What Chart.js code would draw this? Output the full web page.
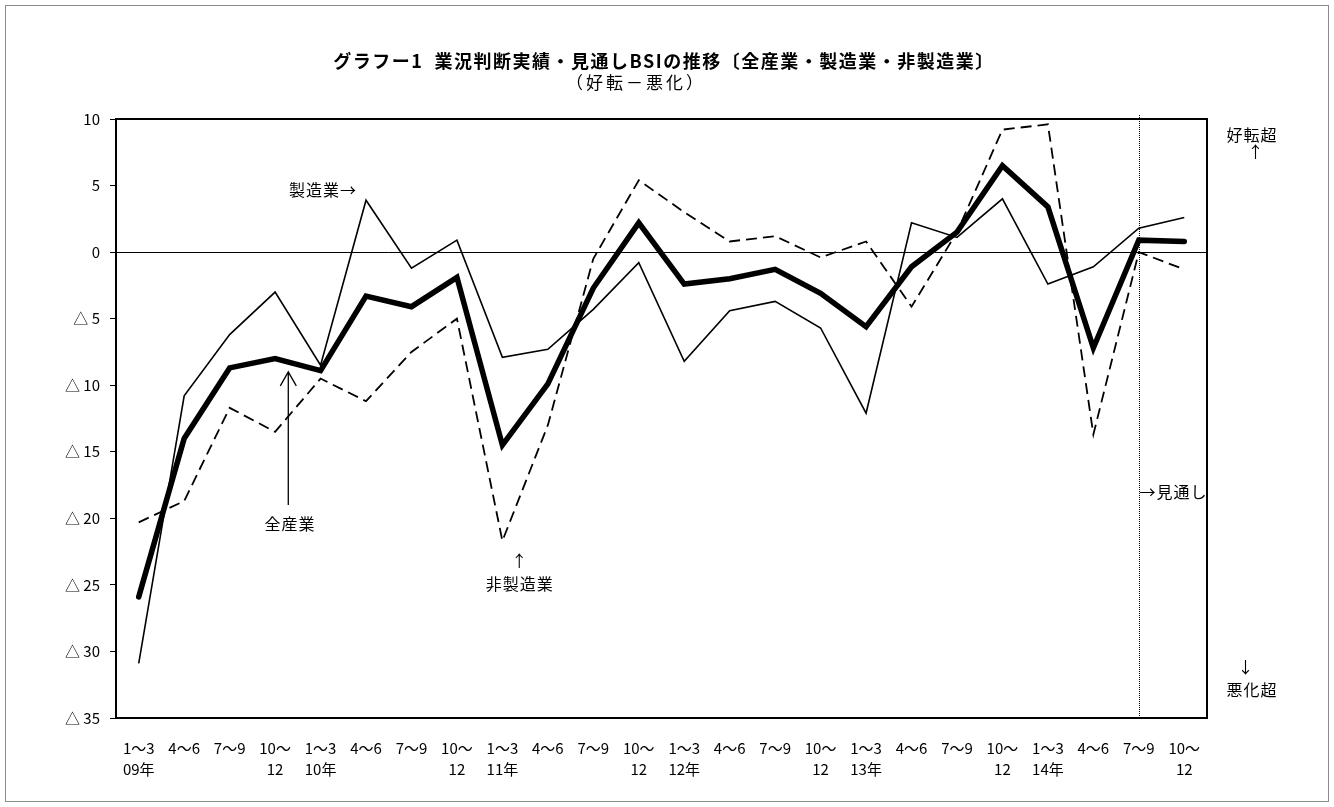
<!DOCTYPE html>
<html>
<head>
<meta charset="utf-8">
<script src="https://cdn.jsdelivr.net/npm/chart.js@4/dist/chart.umd.min.js"></script>
<style>
  html, body { margin: 0; padding: 0; background: #fff; }
  #wrap { width: 1334px; height: 807px; position: relative; }
</style>
</head>
<body>
<div id="wrap"><canvas id="bsi" width="1334" height="807"></canvas></div>
<script>
// quarter labels (two lines: quarter / year)
const quarterTop = ["1～3","4～6","7～9","10～","1～3","4～6","7～9","10～","1～3","4～6","7～9","10～",
                    "1～3","4～6","7～9","10～","1～3","4～6","7～9","10～","1～3","4～6","7～9","10～"];
const quarterBottom = ["09年","","","12","10年","","","12","11年","","","12",
                       "12年","","","12","13年","","","12","14年","","","12"];

// BSI values
const allIndustry = [-25.9,-14.0,-8.7,-8.0,-8.9,-3.3,-4.1,-1.9,-14.5,-9.9,-2.7,2.2,
                     -2.4,-2.0,-1.3,-3.1,-5.6,-1.1,1.5,6.5,3.4,-7.2,0.9,0.8];
const manufacturing = [-30.9,-10.8,-6.2,-3.0,-8.5,3.9,-1.2,0.9,-7.9,-7.3,-4.3,-0.8,
                       -8.2,-4.4,-3.7,-5.7,-12.1,2.2,1.1,4.0,-2.4,-1.1,1.8,2.6];
const nonManufacturing = [-20.3,-18.7,-11.7,-13.5,-9.5,-11.2,-7.5,-5.0,-21.7,-13.0,-0.5,5.4,
                          3.0,0.8,1.2,-0.4,0.8,-4.1,1.5,9.2,9.6,-13.7,0.0,-1.3];

const forecastStart = 22; // 見通し from 7～9 of 14年

const JP = '"Noto Sans CJK JP", "Noto Sans", sans-serif';

const labels = quarterTop.map((q, i) => [q, quarterBottom[i]]);

// extra drawing: frame, plot box, dotted forecast line, titles, notes
const decorations = {
  id: 'decorations',
  beforeDraw(chart) {
    const ctx = chart.ctx;
    ctx.save();
    ctx.fillStyle = '#fff';
    ctx.fillRect(0, 0, chart.width, chart.height);
    ctx.strokeStyle = '#8c8c8c';
    ctx.lineWidth = 1;
    ctx.strokeRect(5.5, 5.5, chart.width - 11, chart.height - 11);
    ctx.restore();
  },
  afterDatasetsDraw(chart) {
    const { ctx, chartArea: a, scales: { x, y } } = chart;
    ctx.save();
    // plot box
    ctx.strokeStyle = '#000';
    ctx.lineWidth = 2;
    ctx.strokeRect(a.left, a.top, a.right - a.left, a.bottom - a.top);
    // forecast dotted line
    const fx = Math.round(x.getPixelForValue(forecastStart)) + 0.5;
    ctx.lineWidth = 1;
    ctx.setLineDash([1, 1]);
    ctx.beginPath();
    ctx.moveTo(fx, a.top - 4);
    ctx.lineTo(fx, a.bottom);
    ctx.stroke();
    ctx.setLineDash([]);

    // titles
    ctx.fillStyle = '#000';
    ctx.textAlign = 'center';
    ctx.textBaseline = 'middle';
    ctx.font = 'bold 18px ' + JP;
    ctx.letterSpacing = '1.5px';
    ctx.fillText('グラフー1  業況判断実績・見通しBSIの推移〔全産業・製造業・非製造業〕', 664, 61);
    ctx.font = '17px ' + JP;
    ctx.letterSpacing = '3px';
    ctx.fillText('（好転－悪化）', 636, 83);

    // notes inside the plot
    ctx.font = '16px ' + JP;
    ctx.letterSpacing = '1px';
    const note = (t, xv, yv, align) => {
      ctx.textAlign = align;
      ctx.fillText(t, x.getPixelForValue(xv), y.getPixelForValue(yv));
    };
    note('製造業→', 4.8, 4.7, 'right');
    note('全産業', 3.33, -20.4, 'center');
    note('↑', 8.38, -23.2, 'center');
    note('非製造業', 8.38, -24.9, 'center');
    ctx.textAlign = 'left';
    ctx.fillText('→見通し', fx, y.getPixelForValue(-18.0));

    // arrow for 全産業
    const ax = x.getPixelForValue(3.29);
    const y0 = y.getPixelForValue(-19.0), y1 = y.getPixelForValue(-9.0);
    ctx.lineWidth = 1.3;
    ctx.beginPath();
    ctx.moveTo(ax, y0); ctx.lineTo(ax, y1);
    ctx.moveTo(ax - 8, y1 + 14); ctx.lineTo(ax, y1); ctx.lineTo(ax + 8, y1 + 14);
    ctx.stroke();

    // right-side notes
    const rx = a.right + 45;
    ctx.textAlign = 'center';
    ctx.fillText('好転超', rx, y.getPixelForValue(8.8));
    ctx.fillText('↑', rx + 4, y.getPixelForValue(7.5));
    ctx.fillText('↓', rx - 6, y.getPixelForValue(-31.2));
    ctx.fillText('悪化超', rx, y.getPixelForValue(-32.9));
    ctx.restore();
  }
};

new Chart(document.getElementById('bsi'), {
  type: 'line',
  data: {
    labels: labels,
    datasets: [
      {
        label: '全産業',
        data: allIndustry,
        borderColor: '#000',
        borderWidth: 5.5,
        borderJoinStyle: 'miter',
        borderCapStyle: 'round',
        pointRadius: 0,
        tension: 0,
        order: 0
      },
      {
        label: '製造業',
        data: manufacturing,
        borderColor: '#000',
        borderWidth: 1.6,
        borderJoinStyle: 'miter',
        pointRadius: 0,
        tension: 0,
        order: 1
      },
      {
        label: '非製造業',
        data: nonManufacturing,
        borderColor: '#000',
        borderWidth: 1.8,
        borderDash: [11, 6],
        borderJoinStyle: 'miter',
        pointRadius: 0,
        tension: 0,
        order: 2
      }
    ]
  },
  options: {
    responsive: false,
    animation: false,
    layout: { padding: { left: 0, right: 127, top: 119, bottom: 19 } },
    plugins: {
      legend: { display: false },
      tooltip: { enabled: false },
      title: { display: false }
    },
    scales: {
      x: {
        offset: true,
        grid: { display: false },
        border: { display: false },
        ticks: {
          color: '#000',
          font: { family: JP, size: 15, lineHeight: 1.45 },
          maxRotation: 0,
          autoSkip: false,
          padding: 11
        },
        afterFit(s) { s.height = 70; }
      },
      y: {
        min: -35,
        max: 10,
        grid: {
          color: (c) => c.tick && c.tick.value === 0 ? '#000' : 'rgba(0,0,0,0)',
          tickColor: '#000',
          tickLength: 6,
          lineWidth: 1
        },
        border: { display: false },
        ticks: {
          stepSize: 5,
          color: '#000',
          padding: 10,
          font: { family: JP, size: 15 },
          callback: (v) => v < 0 ? '△ ' + (-v) : String(v)
        },
        afterFit(s) { s.width = 116; }
      }
    }
  },
  plugins: [decorations]
});
</script>
</body>
</html>
